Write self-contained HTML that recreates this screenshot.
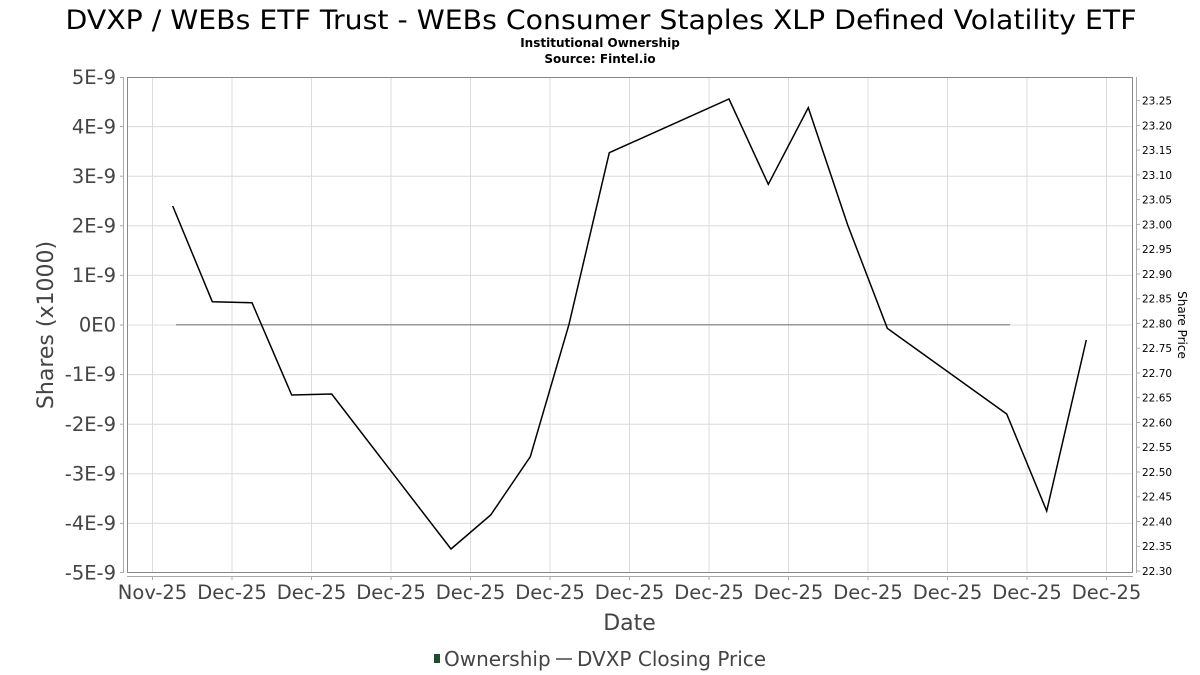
<!DOCTYPE html>
<html><head><meta charset="utf-8"><style>
html,body{margin:0;padding:0;background:#fff;}
svg{display:block;font-family:"DejaVu Sans","Liberation Sans",sans-serif;}
</style></head><body>
<svg width="1200" height="675" viewBox="0 0 1200 675" xmlns="http://www.w3.org/2000/svg">
<rect width="1200" height="675" fill="#fff"/>
<text x="601" y="29" font-size="26.5" text-anchor="middle" fill="#000" textLength="1071" lengthAdjust="spacingAndGlyphs">DVXP / WEBs ETF Trust - WEBs Consumer Staples XLP Defined Volatility ETF</text>
<text x="600" y="47" font-size="12" font-weight="bold" text-anchor="middle" fill="#000">Institutional Ownership</text>
<text x="600" y="63" font-size="12" font-weight="bold" text-anchor="middle" fill="#000">Source: Fintel.io</text>

<g stroke="#dcdcdc" stroke-width="1">
<line x1="127.5" y1="126.6" x2="1132.5" y2="126.6"/>
<line x1="127.5" y1="176.2" x2="1132.5" y2="176.2"/>
<line x1="127.5" y1="225.8" x2="1132.5" y2="225.8"/>
<line x1="127.5" y1="275.4" x2="1132.5" y2="275.4"/>
<line x1="127.5" y1="325" x2="1132.5" y2="325"/>
<line x1="127.5" y1="374.6" x2="1132.5" y2="374.6"/>
<line x1="127.5" y1="424.2" x2="1132.5" y2="424.2"/>
<line x1="127.5" y1="473.8" x2="1132.5" y2="473.8"/>
<line x1="127.5" y1="523.4" x2="1132.5" y2="523.4"/>
<line x1="152.5" y1="77" x2="152.5" y2="572.5"/>
<line x1="232" y1="77" x2="232" y2="572.5"/>
<line x1="311.5" y1="77" x2="311.5" y2="572.5"/>
<line x1="391" y1="77" x2="391" y2="572.5"/>
<line x1="470.5" y1="77" x2="470.5" y2="572.5"/>
<line x1="550" y1="77" x2="550" y2="572.5"/>
<line x1="629.5" y1="77" x2="629.5" y2="572.5"/>
<line x1="709" y1="77" x2="709" y2="572.5"/>
<line x1="788.5" y1="77" x2="788.5" y2="572.5"/>
<line x1="868" y1="77" x2="868" y2="572.5"/>
<line x1="947.5" y1="77" x2="947.5" y2="572.5"/>
<line x1="1027" y1="77" x2="1027" y2="572.5"/>
<line x1="1106.5" y1="77" x2="1106.5" y2="572.5"/>
</g>
<rect x="127.5" y="77.5" width="1005" height="495" fill="none" stroke="#888" stroke-width="1"/>

<!-- left axis -->
<line x1="123.5" y1="77" x2="123.5" y2="573" stroke="#aaa" stroke-width="1"/>
<g stroke="#aaa" stroke-width="1">
<line x1="120" y1="77.5" x2="123.5" y2="77.5"/>
<line x1="120" y1="126.6" x2="123.5" y2="126.6"/>
<line x1="120" y1="176.2" x2="123.5" y2="176.2"/>
<line x1="120" y1="225.8" x2="123.5" y2="225.8"/>
<line x1="120" y1="275.4" x2="123.5" y2="275.4"/>
<line x1="120" y1="325" x2="123.5" y2="325"/>
<line x1="120" y1="374.6" x2="123.5" y2="374.6"/>
<line x1="120" y1="424.2" x2="123.5" y2="424.2"/>
<line x1="120" y1="473.8" x2="123.5" y2="473.8"/>
<line x1="120" y1="523.4" x2="123.5" y2="523.4"/>
<line x1="120" y1="572.5" x2="123.5" y2="572.5"/>
</g>
<g font-size="19.5" fill="#444" text-anchor="end">
<text x="116" y="84">5E-9</text>
<text x="116" y="133.5">4E-9</text>
<text x="116" y="183">3E-9</text>
<text x="116" y="232.5">2E-9</text>
<text x="116" y="282">1E-9</text>
<text x="116" y="331.5">0E0</text>
<text x="116" y="381">-1E-9</text>
<text x="116" y="431">-2E-9</text>
<text x="116" y="480.5">-3E-9</text>
<text x="116" y="530">-4E-9</text>
<text x="116" y="579.5">-5E-9</text>
</g>
<text transform="translate(53,325) rotate(-90)" font-size="22" fill="#444" text-anchor="middle">Shares (x1000)</text>

<!-- bottom axis -->
<line x1="127" y1="576.5" x2="1133" y2="576.5" stroke="#aaa" stroke-width="1"/>
<g stroke="#aaa" stroke-width="1">
<line x1="152.5" y1="576.5" x2="152.5" y2="580"/>
<line x1="232" y1="576.5" x2="232" y2="580"/>
<line x1="311.5" y1="576.5" x2="311.5" y2="580"/>
<line x1="391" y1="576.5" x2="391" y2="580"/>
<line x1="470.5" y1="576.5" x2="470.5" y2="580"/>
<line x1="550" y1="576.5" x2="550" y2="580"/>
<line x1="629.5" y1="576.5" x2="629.5" y2="580"/>
<line x1="709" y1="576.5" x2="709" y2="580"/>
<line x1="788.5" y1="576.5" x2="788.5" y2="580"/>
<line x1="868" y1="576.5" x2="868" y2="580"/>
<line x1="947.5" y1="576.5" x2="947.5" y2="580"/>
<line x1="1027" y1="576.5" x2="1027" y2="580"/>
<line x1="1106.5" y1="576.5" x2="1106.5" y2="580"/>
</g>
<g font-size="19.5" fill="#444" text-anchor="middle">
<text x="152.5" y="599">Nov-25</text>
<text x="232" y="599">Dec-25</text>
<text x="311.5" y="599">Dec-25</text>
<text x="391" y="599">Dec-25</text>
<text x="470.5" y="599">Dec-25</text>
<text x="550" y="599">Dec-25</text>
<text x="629.5" y="599">Dec-25</text>
<text x="709" y="599">Dec-25</text>
<text x="788.5" y="599">Dec-25</text>
<text x="868" y="599">Dec-25</text>
<text x="947.5" y="599">Dec-25</text>
<text x="1027" y="599">Dec-25</text>
<text x="1106.5" y="599">Dec-25</text>
</g>
<text x="629.5" y="630" font-size="22" fill="#444" text-anchor="middle">Date</text>

<!-- right axis -->
<line x1="1136.5" y1="77" x2="1136.5" y2="573" stroke="#aaa" stroke-width="1"/>
<g stroke="#aaa" stroke-width="1">
<line x1="1136.5" y1="100.6" x2="1140" y2="100.6"/>
<line x1="1136.5" y1="125.4" x2="1140" y2="125.4"/>
<line x1="1136.5" y1="150.1" x2="1140" y2="150.1"/>
<line x1="1136.5" y1="174.9" x2="1140" y2="174.9"/>
<line x1="1136.5" y1="199.6" x2="1140" y2="199.6"/>
<line x1="1136.5" y1="224.4" x2="1140" y2="224.4"/>
<line x1="1136.5" y1="249.2" x2="1140" y2="249.2"/>
<line x1="1136.5" y1="273.9" x2="1140" y2="273.9"/>
<line x1="1136.5" y1="298.7" x2="1140" y2="298.7"/>
<line x1="1136.5" y1="323.4" x2="1140" y2="323.4"/>
<line x1="1136.5" y1="348.2" x2="1140" y2="348.2"/>
<line x1="1136.5" y1="373" x2="1140" y2="373"/>
<line x1="1136.5" y1="397.7" x2="1140" y2="397.7"/>
<line x1="1136.5" y1="422.5" x2="1140" y2="422.5"/>
<line x1="1136.5" y1="447.2" x2="1140" y2="447.2"/>
<line x1="1136.5" y1="472" x2="1140" y2="472"/>
<line x1="1136.5" y1="496.8" x2="1140" y2="496.8"/>
<line x1="1136.5" y1="521.5" x2="1140" y2="521.5"/>
<line x1="1136.5" y1="546.3" x2="1140" y2="546.3"/>
<line x1="1136.5" y1="571" x2="1140" y2="571"/>
</g>
<g font-size="10.5" fill="#000">
<text x="1142" y="104.5">23.25</text>
<text x="1142" y="129.3">23.20</text>
<text x="1142" y="154">23.15</text>
<text x="1142" y="178.8">23.10</text>
<text x="1142" y="203.5">23.05</text>
<text x="1142" y="228.3">23.00</text>
<text x="1142" y="253.1">22.95</text>
<text x="1142" y="277.8">22.90</text>
<text x="1142" y="302.6">22.85</text>
<text x="1142" y="327.3">22.80</text>
<text x="1142" y="352.1">22.75</text>
<text x="1142" y="376.9">22.70</text>
<text x="1142" y="401.6">22.65</text>
<text x="1142" y="426.4">22.60</text>
<text x="1142" y="451.1">22.55</text>
<text x="1142" y="475.9">22.50</text>
<text x="1142" y="500.7">22.45</text>
<text x="1142" y="525.4">22.40</text>
<text x="1142" y="550.2">22.35</text>
<text x="1142" y="574.9">22.30</text>
</g>
<text transform="translate(1178,325) rotate(90)" font-size="12" fill="#000" text-anchor="middle">Share Price</text>

<!-- ownership zero line -->
<line x1="176" y1="324.7" x2="1010" y2="324.7" stroke="#999" stroke-width="1.5"/>

<!-- price line -->
<polyline fill="none" stroke="#000" stroke-width="1.5" stroke-linejoin="miter" points="172.7,206 212.3,301.7 252,302.7 291.7,395 331.7,394 451,549 490.7,515 530.3,456.7 569,324.3 609.3,152.7 729,99 768.3,184.3 808.3,107.7 847.7,225 887.3,328.3 1006.7,414 1046.7,511 1086.3,340"/>

<!-- legend -->
<rect x="434" y="654" width="6" height="9" fill="#1d4d2a"/>
<text x="444" y="666" font-size="20" fill="#444">Ownership</text>
<line x1="556" y1="659" x2="572" y2="659" stroke="#444" stroke-width="1.5"/>
<text x="577" y="666" font-size="20" fill="#444">DVXP Closing Price</text>
</svg>
</body></html>
